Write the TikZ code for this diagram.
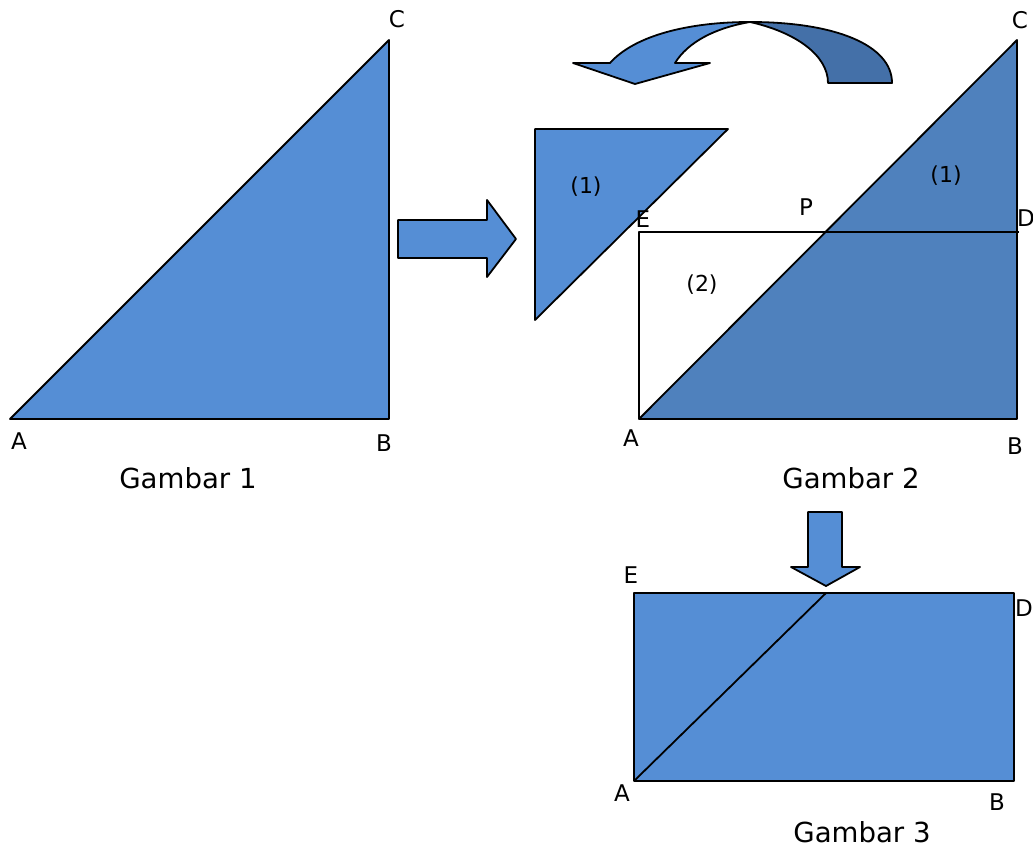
\documentclass[tikz,border=0pt]{standalone}
\usepackage{fontspec}
\setmainfont{DejaVu Sans}
\definecolor{lightblue}{HTML}{558ED5}
\definecolor{darkblue}{HTML}{4F81BD}
\definecolor{backblue}{HTML}{4470A8}
\tikzset{
  piece/.style={draw=black, line width=0.9pt, line join=round},
  lbl/.style={inner sep=0pt, font=\fontsize{11.5}{13}\selectfont},
  num/.style={inner sep=0pt, font=\fontsize{11}{13}\selectfont},
  figcaption/.style={inner sep=0pt, font=\fontsize{13.8}{16}\selectfont},
}
\begin{document}
\begin{tikzpicture}[x=0.5pt,y=-0.5pt]
\useasboundingbox (0,0) rectangle (1033,850);
% ---- Gambar 1 ----
\coordinate (A1) at (10,419);
\coordinate (B1) at (389,419);
\coordinate (C1) at (389,40);
\filldraw[piece, fill=lightblue] (A1) -- (B1) -- (C1) -- cycle;
\node[lbl] (lA1) at (19,441) {A};
\node[lbl] (lB1) at (384,443) {B};
\node[lbl] (lC1) at (397,19) {C};
\node[figcaption] (g1) at (188,478) {Gambar 1};
% ---- right arrow ----
\filldraw[piece, fill=lightblue] (398,220) -- (487,220) -- (487,200) -- (516,239)
  -- (487,277) -- (487,258) -- (398,258) -- cycle;
% ---- piece (1) ----
\coordinate (T1) at (535,129);
\coordinate (T2) at (728,129);
\coordinate (T3) at (535,320);
\filldraw[piece, fill=lightblue] (T1) -- (T2) -- (T3) -- cycle;
\node[num] (p1a) at (586,187) {(1)};
% ---- curved arrow ----
\filldraw[piece, fill=backblue] (750,22) .. controls (835,22) and (892,45) .. (892,83)
  -- (828,83) .. controls (828,55) and (795,32) .. (750,22) -- cycle;
\filldraw[piece, fill=lightblue] (610,63) .. controls (635,35) and (690,22) .. (750,22)
  .. controls (715,28) and (688,42) .. (675,63) -- (710,63) -- (635,84) -- (573,63) -- cycle;
% ---- Gambar 2 ----
\coordinate (A2) at (639,419);
\coordinate (B2) at (1017,419);
\coordinate (C2) at (1017,40);
\coordinate (E2) at (639,232);
\coordinate (D2) at (1019,232);
\filldraw[piece, fill=darkblue] (A2) -- (B2) -- (C2) -- cycle;
\draw[piece] (A2) -- (E2) -- (D2);
\node[lbl] (lA2) at (631,438) {A};
\node[lbl] (lB2) at (1015,446) {B};
\node[lbl] (lC2) at (1020,20) {C};
\node[lbl] (lE2) at (643,219) {E};
\node[lbl] (lP) at (806,207) {P};
\node[lbl] (lD2) at (1026,218) {D};
\node[num] (p1b) at (946,176) {(1)};
\node[num] (p2) at (702,285) {(2)};
\node[figcaption] (g2) at (851,478) {Gambar 2};
% ---- down arrow ----
\filldraw[piece, fill=lightblue] (808,512) -- (842,512) -- (842,567) -- (860,567)
  -- (826,586) -- (791,567) -- (808,567) -- cycle;
% ---- Gambar 3 ----
\coordinate (A3) at (634,781);
\coordinate (B3) at (1014,781);
\coordinate (D3) at (1014,593);
\coordinate (E3) at (634,593);
\coordinate (P3) at (826,593);
\filldraw[piece, fill=lightblue] (A3) -- (B3) -- (D3) -- (E3) -- cycle;
\draw[piece] (A3) -- (P3);
\node[lbl] (lE3) at (631,575) {E};
\node[lbl] (lD3) at (1024,608) {D};
\node[lbl] (lA3) at (622,793) {A};
\node[lbl] (lB3) at (997,802) {B};
\node[figcaption] (g3) at (862,832) {Gambar 3};
\end{tikzpicture}
\end{document}
